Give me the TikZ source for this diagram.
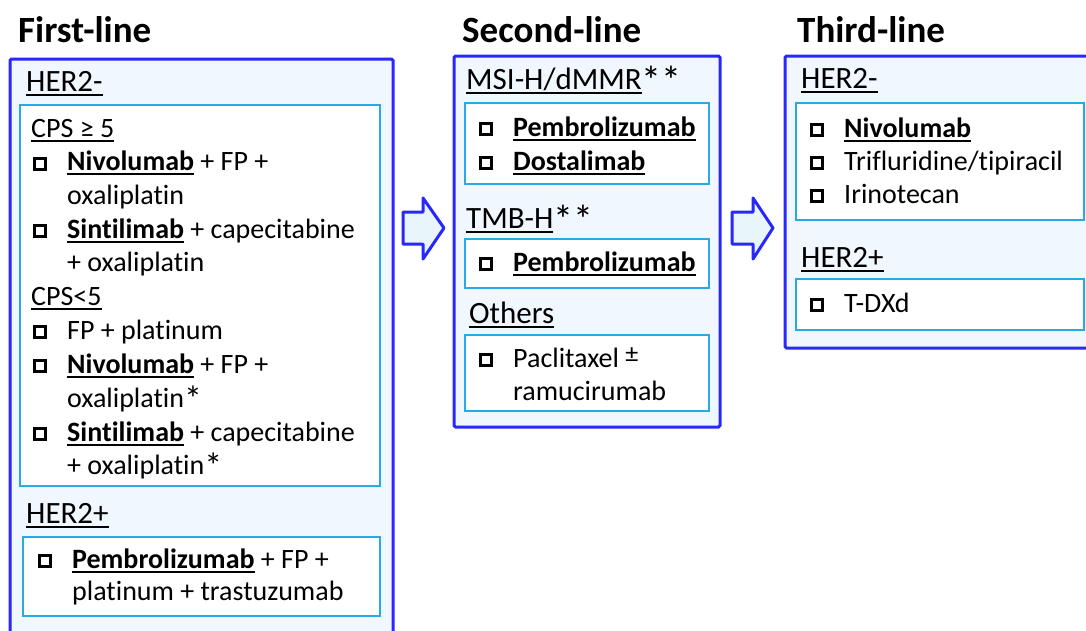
\documentclass[tikz,border=0pt]{standalone}
\usepackage{fontspec}
\setmainfont{Carlito}[Ligatures=NoCommon]
\definecolor{outerb}{RGB}{40,40,250}
\definecolor{outerf}{RGB}{240,247,254}
\definecolor{innerb}{RGB}{40,170,230}
\definecolor{arrowf}{RGB}{232,246,252}
\newcommand\uln[1]{\setbox0\hbox{#1}\rlap{\rule[-4.5pt]{\wd0}{1.8pt}}\box0\relax}
\newcommand\sqb{\rlap{\rule{14pt}{14pt}}\hspace{3pt}\raisebox{3pt}{\textcolor{white}{\rule{8pt}{8pt}}}\hspace{3pt}}
\newcommand\itm{\makebox[34pt][l]{\sqb}}
\newcommand\stx[1]{\raisebox{-5pt}{\fontsize{40}{40}\selectfont #1}}
\newcommand\stb[1]{\raisebox{-4pt}{\fontsize{36}{36}\selectfont #1}}
\begin{document}
\begin{tikzpicture}[x=1pt,y=-1pt,
  txt/.style={anchor=base west, inner sep=0pt, font=\fontsize{28}{33}\selectfont},
  hd/.style={anchor=base west, inner sep=0pt, font=\fontsize{31}{36}\selectfont},
  ttl/.style={anchor=base west, inner sep=0pt, font=\fontsize{37}{42}\selectfont\bfseries},
  outer/.style={draw=outerb, line width=3pt, fill=outerf, rounded corners=1.5pt},
  inner/.style={draw=innerb, line width=1.5pt, fill=white},
  barrow/.style={draw=outerb, line width=3pt, fill=arrowf, line join=round}]
\clip (0,0) rectangle (1086,630);
\fill[white] (0,0) rectangle (1086,630);

% ---------- Column 1 ----------
\node[ttl] (t1) at (18,42) {First-line};
\draw[outer] (10,59) rectangle (393,660);
\node[hd] (h11) at (26,91) {\uln{HER2-}};
\draw[inner] (20,105) rectangle (380,486);
\node[txt] (c1a) at (31,137) {\uln{CPS ≥ 5}};
\node[txt] (c1b) at (33,170.5) {\itm\uln{\textbf{Nivolumab}} + FP +};
\node[txt] (c1c) at (67,204.5) {oxaliplatin};
\node[txt] (c1d) at (33,238) {\itm\uln{\textbf{Sintilimab}} + capecitabine};
\node[txt] (c1e) at (67,271.5) {+ oxaliplatin};
\node[txt] (c1f) at (31,305) {\uln{CPS<5}};
\node[txt] (c1g) at (33,339) {\itm FP + platinum};
\node[txt] (c1h) at (33,373) {\itm\uln{\textbf{Nivolumab}} + FP +};
\node[txt] (c1i) at (67,407) {oxaliplatin\stb{*}};
\node[txt] (c1j) at (33,441) {\itm\uln{\textbf{Sintilimab}} + capecitabine};
\node[txt] (c1k) at (67,474) {+ oxaliplatin\stb{*}};
\node[hd] (h12) at (26,523) {\uln{HER2+}};
\draw[inner] (23,537) rectangle (380,616);
\node[txt] (c1l) at (38,568) {\itm\uln{\textbf{Pembrolizumab}} + FP +};
\node[txt] (c1m) at (72,600) {platinum + trastuzumab};

% ---------- Arrows ----------
\draw[barrow] (403,212) -- (423,212) -- (423,198) -- (444,228) -- (423,259) -- (423,244) -- (403,244) -- cycle;
\draw[barrow] (732,212) -- (753,212) -- (753,198) -- (773,228) -- (753,259) -- (753,244) -- (732,244) -- cycle;

% ---------- Column 2 ----------
\node[ttl] (t2) at (462,42) {Second-line};
\draw[outer] (454,56) rectangle (720,427);
\node[hd] (h21) at (466,89) {\uln{MSI-H/dMMR}\stx{**}};
\draw[inner] (465,103) rectangle (709,184);
\node[txt] (c2a) at (479,136) {\itm\uln{\textbf{Pembrolizumab}}};
\node[txt] (c2b) at (479,170) {\itm\uln{\textbf{Dostalimab}}};
\node[hd] (h22) at (466,228) {\uln{TMB-H}\stx{**}};
\draw[inner] (465,239) rectangle (709,288);
\node[txt] (c2c) at (479,271) {\itm\uln{\textbf{Pembrolizumab}}};
\node[hd] (h23) at (469,323) {\uln{Others}};
\draw[inner] (465,335) rectangle (709,411);
\node[txt] (c2d) at (479,367) {\itm Paclitaxel \raisebox{5pt}{\fontsize{26}{26}\selectfont ±}};
\node[txt] (c2e) at (513,400) {ramucirumab};

% ---------- Column 3 ----------
\node[ttl] (t3) at (797,42) {Third-line};
\draw[outer] (785,56) rectangle (1110,348);
\node[hd] (h31) at (801,88) {\uln{HER2-}};
\draw[inner] (796,103) rectangle (1084,220);
\node[txt] (c3a) at (810,137) {\itm\uln{\textbf{Nivolumab}}};
\node[txt] (c3b) at (810,170) {\itm Trifluridine/tipiracil};
\node[txt] (c3c) at (810,203) {\itm Irinotecan};
\node[hd] (h32) at (801,267) {\uln{HER2+}};
\draw[inner] (796,279) rectangle (1084,330);
\node[txt] (c3d) at (810,312) {\itm T-DXd};
\end{tikzpicture}
\end{document}
